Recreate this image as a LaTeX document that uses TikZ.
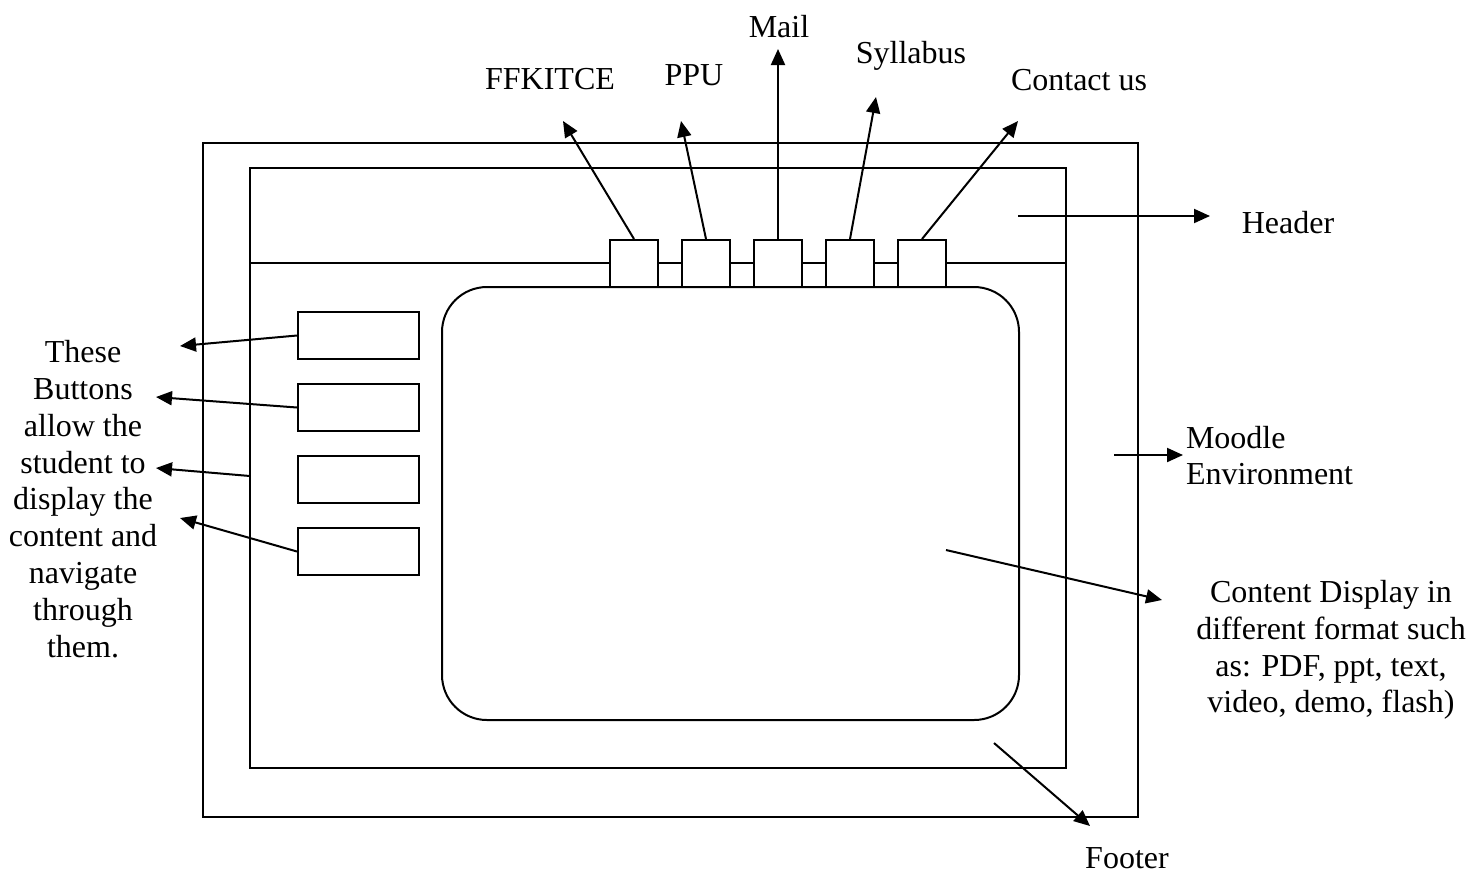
\documentclass[tikz,border=0pt]{standalone}
\usepackage{fontspec}
\setmainfont{Liberation Serif}
\usetikzlibrary{arrows.meta}
\begin{document}
\begin{tikzpicture}[x=0.5pt,y=-0.5pt, line width=1pt,
  lbl/.style={font=\fontsize{16}{18.4}\selectfont, inner sep=0pt},
  arr/.style={-{Triangle[length=8pt,width=7pt]}},
  hbtn/.style={draw, fill=white, minimum width=24pt, minimum height=23.5pt, inner sep=0pt},
  lbtn/.style={draw, fill=white, minimum width=60.5pt, minimum height=23.5pt, inner sep=0pt}]
\useasboundingbox (0,0) rectangle (1481,874);
% frames
\draw (203,143) rectangle (1138,817);
\draw (250,168) rectangle (1066,768);
\draw (250,263) -- (1066,263);
% content area
\node[draw, rounded corners=22.5pt, minimum width=288.5pt, minimum height=216.5pt, inner sep=0pt] (content) at (730.5,503.5) {};
% header buttons
\node[hbtn] (hb1) at (634,263.5) {};
\node[hbtn] (hb2) at (706,263.5) {};
\node[hbtn] (hb3) at (778,263.5) {};
\node[hbtn] (hb4) at (850,263.5) {};
\node[hbtn] (hb5) at (922,263.5) {};
% left buttons
\node[lbtn] (lb1) at (358.5,335.5) {};
\node[lbtn] (lb2) at (358.5,407.5) {};
\node[lbtn] (lb3) at (358.5,479.5) {};
\node[lbtn] (lb4) at (358.5,551.5) {};
% labels
\node[lbl, anchor=base] (ffk) at (550,89) {FFKITCE};
\node[lbl, anchor=base] (ppu) at (694,85) {PPU};
\node[lbl, anchor=base] (mail) at (779,37) {Mail};
\node[lbl, anchor=base] (syl) at (911,63) {Syllabus};
\node[lbl, anchor=base] (con) at (1079,90) {Contact us};
\node[lbl, anchor=base] (hdr) at (1288,233) {Header};
\node[lbl, anchor=base] (ftr) at (1127,868) {Footer};
\node[lbl, anchor=west, align=left] (moo) at (1185,455.5) {Moodle\\Environment};
\node[lbl, align=center] (cdt) at (1331,650) {Content Display in\\different format such\\as: PDF, ppt, text,\\video, demo, flash)};
\node[lbl, align=center] (btxt) at (83,499) {These\\Buttons\\allow the\\student to\\display the\\content and\\navigate\\through\\them.};
% arrow end points
\coordinate (tffk) at (563,121);
\coordinate (tppu) at (681,121);
\coordinate (tmail) at (778,49);
\coordinate (tsyl) at (876,97);
\coordinate (tcon) at (1018,121);
\coordinate (shdr) at (1018,216);
\coordinate (thdr) at (1210,216);
\coordinate (smoo) at (1114,455);
\coordinate (tmoo) at (1183,455);
\coordinate (scdt) at (946,550);
\coordinate (tcdt) at (1162,600);
\coordinate (sftr) at (994,743);
\coordinate (tftr) at (1090,826);
\coordinate (tb1) at (180,346);
\coordinate (tb2) at (156,397);
\coordinate (sb3) at (250,476);
\coordinate (tb3) at (156,468);
\coordinate (tb4) at (180,518);
% arrows
\draw[arr] (hb1.north) -- (tffk);
\draw[arr] (hb2.north) -- (tppu);
\draw[arr] (hb3.north) -- (tmail);
\draw[arr] (hb4.north) -- (tsyl);
\draw[arr] (hb5.north) -- (tcon);
\draw[arr] (shdr) -- (thdr);
\draw[arr] (smoo) -- (tmoo);
\draw[arr] (scdt) -- (tcdt);
\draw[arr] (sftr) -- (tftr);
\draw[arr] (lb1.west) -- (tb1);
\draw[arr] (lb2.west) -- (tb2);
\draw[arr] (sb3) -- (tb3);
\draw[arr] (lb4.west) -- (tb4);
\end{tikzpicture}
\end{document}
